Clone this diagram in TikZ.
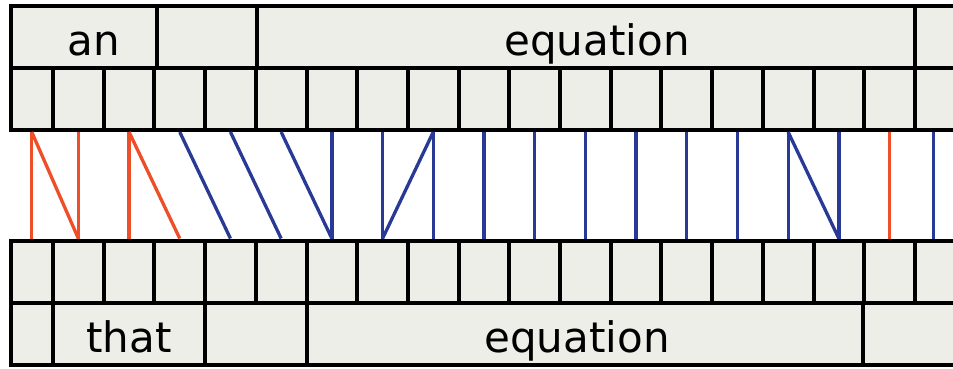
\documentclass[tikz,border=0pt]{standalone}
\usepackage{fontspec}
\setmainfont{DejaVu Sans}
\definecolor{cellgray}{RGB}{237,238,232}
\definecolor{linkred}{RGB}{238,78,40}
\definecolor{linkblue}{RGB}{40,58,150}

\begin{document}
\begin{tikzpicture}[x=1pt, y=-1pt,
        cell/.style={draw=black, fill=cellgray, line width=4pt, inner sep=0pt, minimum height=62pt},
        word/.style={font=\fontsize{42}{50}\selectfont, inner sep=0pt, anchor=base},
        link/.style={line width=3.3pt}]

        \fill[white] (0,0) rectangle (953,369);
        \useasboundingbox (0,0) rectangle (953,369);

        % upper sentence

        \node[cell, minimum width=146.5pt] (an) at (83.75,37.5) {};
        \node[cell, minimum width=100pt] (gapA) at (207,37.5) {};
        \node[cell, minimum width=658pt] (eqA) at (586,37.5) {};
        \node[cell, minimum width=100pt] (endA) at (965,37.5) {};

        \node[word] (anword) at ([xshift=10pt, yshift=15pt]an.south) {an};
        \node[word] (eqAword) at ([xshift=11pt, yshift=15pt]eqA.south) {equation};

        % upper tokens

        \node[cell, minimum width=42.5pt] (t1) at (31.75,99) {};
        \foreach \i in {2,...,19} {
            \pgfmathsetmacro{\cx}{53+50.7*(\i-2)+25.35}
            \node[cell, minimum width=50.7pt] (t\i) at (\cx,99) {};
        }

        % lower tokens

        \node[cell, minimum width=42.5pt] (b1) at (31.75,271.5) {};
        \foreach \i in {2,...,19} {
            \pgfmathsetmacro{\cx}{53+50.7*(\i-2)+25.35}
            \node[cell, minimum width=50.7pt] (b\i) at (\cx,271.5) {};
        }

        % lower sentence

        \node[cell, minimum width=42.5pt] (gapB) at (31.75,334) {};
        \node[cell, minimum width=152pt] (that) at (129,334) {};
        \node[cell, minimum width=102pt] (gapC) at (256,334) {};
        \node[cell, minimum width=556pt] (eqB) at (585,334) {};
        \node[cell, minimum width=140pt] (endB) at (933,334) {};

        \node[word] (thatword) at ([yshift=15pt]that.south) {that};
        \node[word] (eqBword) at ([xshift=-8pt, yshift=15pt]eqB.south) {equation};

        % alignment links

        \foreach \a/\b in {1/1, 1/2, 2/2, 3/3, 3/4, 18/18}
            \draw[link, linkred] (t\a.south) -- (b\b.north);

        \foreach \a/\b in {4/5, 5/6, 6/7, 7/7, 8/8, 9/8, 9/9, 10/10, 11/11,
                           12/12, 13/13, 14/14, 15/15, 16/16, 16/17, 17/17}
            \draw[link, linkblue] (t\a.south) -- (b\b.north);

        \draw[link, linkblue] ([xshift=-7pt]t19.south) -- ([xshift=-7pt]b19.north); % last

    \end{tikzpicture}
\end{document}
